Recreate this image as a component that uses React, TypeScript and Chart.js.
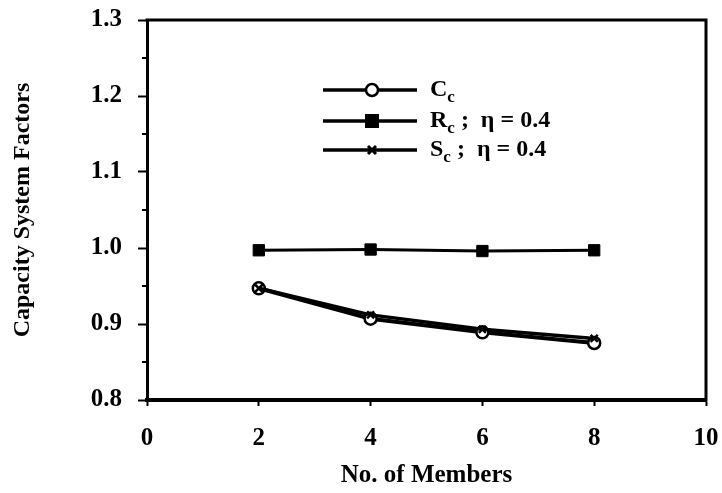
import React, { useEffect, useRef } from 'react';
import { Chart, registerables } from 'chart.js';
Chart.register(...registerables);

const members = [2, 4, 6, 8];
const ccValues = [0.947, 0.907, 0.889, 0.875];
const rcValues = [0.997, 0.998, 0.996, 0.997];
const scValues = [0.947, 0.912, 0.893, 0.881];
const xTickValues = [0, 2, 4, 6, 8, 10];
const yTickValues = [0.8, 0.9, 1.0, 1.1, 1.2, 1.3];
const yMinorTicks = [0.85, 0.95, 1.05, 1.15, 1.25];
const legendItems = [
  { main: 'C', sub: 'c', rest: '', style: 'circle' },
  { main: 'R', sub: 'c', rest: ' ;  \u03b7 = 0.4', style: 'rect' },
  { main: 'S', sub: 'c', rest: ' ;  \u03b7 = 0.4', style: 'crossRot' },
];

const SERIF = '"Liberation Serif", "DejaVu Serif", serif';

const framePlugin = {
  id: 'frame',
  afterDraw(chart: any) {
    const { ctx, chartArea } = chart;
    const { left, right, top, bottom } = chartArea;
    const ys = chart.scales.y;
    ctx.save();
    ctx.strokeStyle = '#000';
    ctx.lineCap = 'square';
    ctx.lineWidth = 3;
    ctx.beginPath();
    ctx.moveTo(left, top);
    ctx.lineTo(right, top);
    ctx.lineTo(right, bottom);
    ctx.stroke();
    ctx.lineWidth = 2;
    ctx.lineCap = 'butt';
    for (const v of yMinorTicks) {
      const y = ys.getPixelForValue(v);
      ctx.beginPath();
      ctx.moveTo(left - 5, y);
      ctx.lineTo(left, y);
      ctx.stroke();
    }
    const x0 = 323, x1 = 417, xm = 372, xt = 430;
    const rows = [90, 121, 150];
    legendItems.forEach((it, i) => {
      const y = rows[i];
      ctx.lineWidth = 3.5;
      ctx.strokeStyle = '#000';
      ctx.beginPath();
      ctx.moveTo(x0, y);
      ctx.lineTo(x1, y);
      ctx.stroke();
      if (it.style === 'circle') {
        ctx.fillStyle = '#fff';
        ctx.lineWidth = 2.5;
        ctx.beginPath();
        ctx.arc(xm, y, 6, 0, Math.PI * 2);
        ctx.fill();
        ctx.stroke();
      } else if (it.style === 'rect') {
        ctx.fillStyle = '#000';
        ctx.fillRect(xm - 7, y - 7, 14, 14);
      } else {
        ctx.lineWidth = 3;
        ctx.beginPath();
        ctx.moveTo(xm - 4, y - 4);
        ctx.lineTo(xm + 4, y + 4);
        ctx.moveTo(xm + 4, y - 4);
        ctx.lineTo(xm - 4, y + 4);
        ctx.stroke();
      }
      ctx.fillStyle = '#000';
      ctx.textBaseline = 'middle';
      ctx.textAlign = 'left';
      ctx.font = `bold 24px ${SERIF}`;
      ctx.fillText(it.main, xt, y);
      let w = ctx.measureText(it.main).width;
      ctx.font = `bold 17px ${SERIF}`;
      ctx.fillText(it.sub, xt + w, y + 8);
      w += ctx.measureText(it.sub).width;
      ctx.font = `bold 24px ${SERIF}`;
      ctx.fillText(it.rest, xt + w, y);
    });
    ctx.restore();
  },
};

export default function App() {
  const ref = useRef<HTMLCanvasElement>(null);
  useEffect(() => {
    document.body.style.margin = '0';
    const chart = new Chart(ref.current!, {
      type: 'line',
      data: {
        datasets: [
          {
            label: 'Sc',
            data: members.map((m, i) => ({ x: m, y: scValues[i] })),
            borderColor: '#000',
            borderWidth: 3.5,
            pointStyle: 'crossRot',
            pointRadius: 5,
            pointBorderWidth: 2.5,
            pointBorderColor: '#000',
          },
          {
            label: 'Cc',
            data: members.map((m, i) => ({ x: m, y: ccValues[i] })),
            borderColor: '#000',
            borderWidth: 4,
            pointStyle: 'circle',
            pointRadius: 6,
            pointBorderWidth: 2.5,
            pointBackgroundColor: '#fff',
            pointBorderColor: '#000',
          },
          {
            label: 'Rc',
            data: members.map((m, i) => ({ x: m, y: rcValues[i] })),
            borderColor: '#000',
            borderWidth: 3,
            pointStyle: 'rect',
            pointRadius: 8,
            pointBorderWidth: 1,
            pointBackgroundColor: '#000',
            pointBorderColor: '#000',
          },
        ],
      },
      options: {
        animation: false,
        responsive: false,
        layout: { padding: { top: 20, right: 16, left: 0, bottom: 0 } },
        plugins: { legend: { display: false }, tooltip: { enabled: false } },
        scales: {
          x: {
            type: 'linear',
            min: 0,
            max: 10,
            afterBuildTicks: (s: any) => { s.ticks = xTickValues.map((v) => ({ value: v })); },
            afterFit: (s: any) => { s.height = 93; s.paddingLeft = 0; s.paddingRight = 0; },
            ticks: { color: '#000', font: { family: SERIF, size: 25, weight: 'bold' }, padding: 18 },
            grid: { drawOnChartArea: false, tickLength: 6, tickWidth: 2, tickColor: '#000' },
            border: { color: '#000', width: 4 },
            title: { display: true, text: 'No. of Members', color: '#000', font: { family: SERIF, size: 25, weight: 'bold' }, padding: { top: 0, bottom: 2 } },
          },
          y: {
            type: 'linear',
            min: 0.8,
            max: 1.3,
            afterBuildTicks: (s: any) => { s.ticks = yTickValues.map((v) => ({ value: v })); },
            afterFit: (s: any) => { s.width = 147; s.paddingTop = 0; s.paddingBottom = 0; },
            ticks: { color: '#000', font: { family: SERIF, size: 25, weight: 'bold' }, padding: 16, callback: (v: any) => Number(v).toFixed(1) },
            grid: { drawOnChartArea: false, tickLength: 9, tickWidth: 2, tickColor: '#000' },
            border: { color: '#000', width: 3 },
            title: { display: true, text: 'Capacity System Factors', color: '#000', font: { family: SERIF, size: 24, weight: 'bold' }, padding: { top: 8, bottom: 0 } },
          },
        },
      },
      plugins: [framePlugin],
    } as any);
    return () => chart.destroy();
  }, []);
  return (
    <div style={{ width: 722, height: 493, background: '#fff' }}>
      <canvas ref={ref} width={722} height={493} />
    </div>
  );
}
